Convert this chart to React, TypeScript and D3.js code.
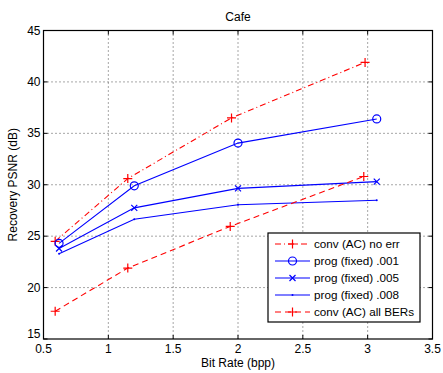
import React from "react";
import * as d3 from "d3";

const xTicks = [0.5, 1, 1.5, 2, 2.5, 3, 3.5];
const yTicks = [15, 20, 25, 30, 35, 40, 45];

const convNoErrX = [0.59, 1.15, 1.95, 2.98];
const convNoErrY = [24.5, 30.6, 36.5, 41.9];
const prog001X = [0.62, 1.2, 2.0, 3.07];
const prog001Y = [24.3, 29.9, 34.05, 36.4];
const prog005X = [0.62, 1.2, 2.0, 3.07];
const prog005Y = [23.8, 27.75, 29.65, 30.3];
const prog008X = [0.62, 1.2, 2.0, 3.07];
const prog008Y = [23.3, 26.65, 28.05, 28.5];
const convAllX = [0.59, 1.15, 1.94, 2.97];
const convAllY = [17.7, 21.9, 25.95, 30.8];

const legendLabels = [
  "conv (AC) no err",
  "prog (fixed) .001",
  "prog (fixed) .005",
  "prog (fixed) .008",
  "conv (AC) all BERs",
];

type Marker = "plus" | "circle" | "x" | "dot";
interface Series {
  xs: number[];
  ys: number[];
  color: string;
  dash: string;
  marker: Marker;
  label: string;
}

const series: Series[] = [
  { xs: convNoErrX, ys: convNoErrY, color: "#ff0000", dash: "6,3,1,3", marker: "plus", label: legendLabels[0] },
  { xs: prog001X, ys: prog001Y, color: "#0000ff", dash: "", marker: "circle", label: legendLabels[1] },
  { xs: prog005X, ys: prog005Y, color: "#0000ff", dash: "", marker: "x", label: legendLabels[2] },
  { xs: prog008X, ys: prog008Y, color: "#0000ff", dash: "", marker: "dot", label: legendLabels[3] },
  { xs: convAllX, ys: convAllY, color: "#ff0000", dash: "6,4", marker: "plus", label: legendLabels[4] },
];

const W = 443;
const H = 373;
const L = 43.5, R = 432.5, T = 30.5, B = 339;
const FONT = "'Liberation Sans', Arial, Helvetica, sans-serif";
const FS = 12;

function MarkerShape({ m, x, y, color }: { m: Marker; x: number; y: number; color: string }) {
  if (m === "plus") {
    const s = 4.5;
    return (
      <path d={`M${x - s},${y}H${x + s}M${x},${y - s}V${y + s}`} stroke={color} strokeWidth={1.2} fill="none" />
    );
  }
  if (m === "circle") {
    return <circle cx={x} cy={y} r={4} stroke={color} strokeWidth={1.2} fill="none" />;
  }
  if (m === "x") {
    const s = 3;
    return (
      <path d={`M${x - s},${y - s}L${x + s},${y + s}M${x - s},${y + s}L${x + s},${y - s}`} stroke={color} strokeWidth={1.2} fill="none" />
    );
  }
  return <circle cx={x} cy={y} r={1} fill={color} />;
}

export default function App() {
  const x = d3.scaleLinear().domain([0.5, 3.5]).range([L, R]);
  const y = d3.scaleLinear().domain([15, 45]).range([B, T]);
  const line = d3.line<[number, number]>().x((d) => x(d[0])).y((d) => y(d[1]));

  const legX = 268, legY = 233, legW = 152, legH = 89;
  const rowH = 17;

  return (
    <svg width={W} height={H} style={{ position: "absolute", left: 0, top: 0, background: "#fff" }} fontFamily={FONT}>
      <rect x={0} y={0} width={W} height={H} fill="#fff" />
      {/* grid */}
      {xTicks.slice(1, -1).map((t) => (
        <line key={"gx" + t} x1={x(t)} x2={x(t)} y1={T} y2={B} stroke="#000" strokeWidth={0.7} strokeDasharray="1,3" />
      ))}
      {yTicks.slice(1, -1).map((t) => (
        <line key={"gy" + t} x1={L} x2={R} y1={y(t)} y2={y(t)} stroke="#000" strokeWidth={0.7} strokeDasharray="1,3" />
      ))}
      {/* ticks */}
      {xTicks.map((t) => (
        <g key={"tx" + t}>
          <line x1={x(t)} x2={x(t)} y1={B} y2={B - 4} stroke="#000" />
          <line x1={x(t)} x2={x(t)} y1={T} y2={T + 4} stroke="#000" />
          <text x={x(t)} y={B + 14} fontSize={FS} textAnchor="middle">{t}</text>
        </g>
      ))}
      {yTicks.map((t) => (
        <g key={"ty" + t}>
          <line x1={L} x2={L + 4} y1={y(t)} y2={y(t)} stroke="#000" />
          <line x1={R} x2={R - 4} y1={y(t)} y2={y(t)} stroke="#000" />
          <text x={L - 3} y={y(t) + (t === 15 ? -1 : 4)} fontSize={FS} textAnchor="end">{t}</text>
        </g>
      ))}
      {/* series */}
      {series.map((s, i) => {
        const pts = s.xs.map((v, j) => [v, s.ys[j]] as [number, number]);
        return (
          <g key={"s" + i}>
            <path d={line(pts) || ""} stroke={s.color} fill="none" strokeWidth={1.1} strokeDasharray={s.dash || undefined} />
            {pts.map((p, j) => (
              <MarkerShape key={j} m={s.marker} x={x(p[0])} y={y(p[1])} color={s.color} />
            ))}
          </g>
        );
      })}
      {/* box */}
      <rect x={L} y={T} width={R - L} height={B - T} fill="none" stroke="#000" strokeWidth={1.2} />
      {/* title & labels */}
      <text x={(L + R) / 2} y={21} fontSize={FS} textAnchor="middle">Cafe</text>
      <text x={(L + R) / 2} y={367} fontSize={FS} textAnchor="middle">Bit Rate (bpp)</text>
      <text transform={`translate(17,${(T + B) / 2}) rotate(-90)`} fontSize={FS} textAnchor="middle">Recovery PSNR (dB)</text>
      {/* legend */}
      <rect x={legX} y={legY} width={legW} height={legH} fill="#fff" stroke="#000" strokeWidth={1.2} />
      {series.map((s, i) => {
        const cy = legY + 11 + i * rowH;
        return (
          <g key={"l" + i}>
            <line x1={legX + 7} x2={legX + 42} y1={cy} y2={cy} stroke={s.color} strokeWidth={1.1} strokeDasharray={s.dash || undefined} />
            <MarkerShape m={s.marker} x={legX + 24.5} y={cy} color={s.color} />
            <text x={legX + 46} y={cy + 4} fontSize={FS - 0.3}>{s.label}</text>
          </g>
        );
      })}
    </svg>
  );
}
